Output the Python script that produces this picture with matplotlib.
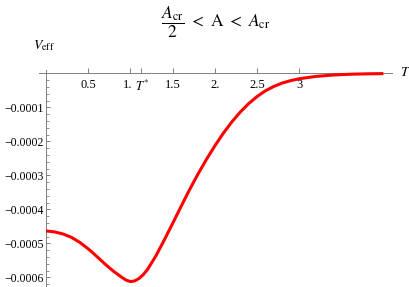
import matplotlib
matplotlib.use('Agg')
import matplotlib.pyplot as plt
import matplotlib.transforms as mtransforms
import numpy as np

plt.rcParams['mathtext.fontset'] = 'stix'
plt.rcParams['font.family'] = ['Liberation Serif', 'DejaVu Serif']

# effective potential (V in units of 1e-4)
T = [0.0, 0.1, 0.2, 0.3, 0.4, 0.5, 0.6, 0.7, 0.8, 0.9, 0.95, 1.0, 1.05,
     1.1, 1.15, 1.2, 1.3, 1.4, 1.5, 1.6, 1.7, 1.8, 1.9, 2.0, 2.1, 2.2,
     2.3, 2.4, 2.5, 2.6, 2.7, 2.8, 2.9, 3.0, 3.2, 3.4, 3.6, 3.8, 4.0]
V = [-4.63, -4.66, -4.72, -4.82, -4.97, -5.16, -5.38, -5.61, -5.82, -6.00,
     -6.08, -6.12, -6.10, -6.03, -5.92, -5.77, -5.37, -4.90, -4.41, -3.91,
     -3.42, -2.96, -2.53, -2.13, -1.76, -1.43, -1.14, -0.89, -0.68, -0.51,
     -0.38, -0.28, -0.21, -0.155, -0.085, -0.045, -0.022, -0.01, -0.003]
V = np.array(V) * 1e-4

Tstar = 1.12
x_ticks = [0.5, 1.0, Tstar, 1.5, 2.0, 2.5, 3.0]
x_labels = ['0.5', '1.', '$T^{*}$', '1.5', '2.', '2.5', '3']
y_ticks = [-0.0001, -0.0002, -0.0003, -0.0004, -0.0005, -0.0006]
y_labels = ['\u22120.0001', '\u22120.0002', '\u22120.0003',
            '\u22120.0004', '\u22120.0005', '\u22120.0006']

fig = plt.figure(figsize=(4.1, 2.87), dpi=100)
ax = fig.add_axes([0, 0, 1, 1])

# pixel mapping: T=0 at x=46.2, 84.3 px per unit; V=0 at y=73.5, 34 px per 1e-4
ax.set_xlim(-46.2 / 84.3, (410 - 46.2) / 84.3)
ax.set_ylim(-(287 - 73.5) / 34 * 1e-4, 73.5 / 34 * 1e-4)

ax.plot(T, V, color='#ff0000', lw=2.2, solid_capstyle='butt',
        solid_joinstyle='round', zorder=3)

axcol = '#808080'
for s in ['top', 'right']:
    ax.spines[s].set_visible(False)
ax.spines['left'].set_position(('data', 0))
ax.spines['bottom'].set_position(('data', 0))
ax.spines['left'].set_bounds(-6.3e-4, 0.1e-4)
ax.spines['bottom'].set_bounds(-0.09, 4.10)
for s in ['left', 'bottom']:
    ax.spines[s].set_color(axcol)
    ax.spines[s].set_linewidth(0.7)

ax.set_xticks(x_ticks)
ax.set_xticklabels(x_labels)
ax.set_yticks(y_ticks)
ax.set_yticklabels(y_labels)
ax.set_yticks(np.arange(-6.2e-4, 0.0, 0.2e-4), minor=True)
ax.tick_params(axis='x', direction='in', length=3.5, width=0.7, color=axcol,
               pad=4, labelsize=9)
ax.tick_params(axis='y', which='major', direction='in', length=3, width=0.7,
               color=axcol, pad=2, labelsize=8.5)
ax.tick_params(axis='y', which='minor', direction='in', length=1.8, width=0.6,
               color=axcol)

# nudge the crowded "1." and T* labels apart
xl = ax.get_xticklabels()
for lab, dx in [(xl[1], -3), (xl[2], 1)]:
    lab.set_transform(lab.get_transform() +
                      mtransforms.ScaledTranslation(dx / 100, 0, fig.dpi_scale_trans))

fig.text(44 / 410, 1 - 46 / 287, r'$V_{\rm eff}$', ha='center', va='center',
         fontsize=10)
fig.text(405 / 410, 1 - 73 / 287, r'$T$', ha='center', va='center',
         fontsize=10)
fig.text(216 / 410, 1 - 22 / 287,
         r'$\dfrac{A_{\rm cr}}{2}\ <\ \mathrm{A}\ <\ A_{\rm cr}$',
         ha='center', va='center', fontsize=12.5)

fig.savefig('out.png', dpi=100)
